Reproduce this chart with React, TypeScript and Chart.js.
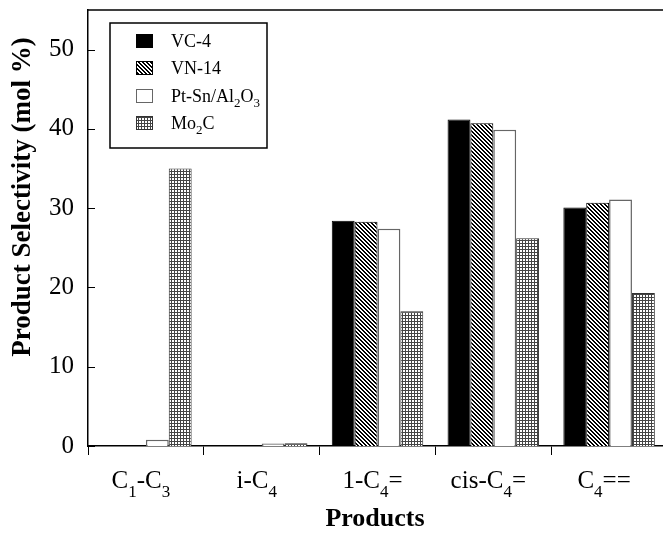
import React, { useEffect, useRef } from "react";
import { Chart, registerables } from "chart.js";

Chart.register(...registerables);

// ---- data ----
const categories = ["C1-C3", "i-C4", "1-C4=", "cis-C4=", "C4=="];
// rich label parts: [text, isSubscript]
const categoryLabelParts: [string, number][][] = [
  [["C", 0], ["1", 1], ["-C", 0], ["3", 1]],
  [["i-C", 0], ["4", 1]],
  [["1-C", 0], ["4", 1], ["=", 0]],
  [["cis-C", 0], ["4", 1], ["=", 0]],
  [["C", 0], ["4", 1], ["==", 0]],
];
const seriesNames = ["VC-4", "VN-14", "Pt-Sn/Al2O3", "Mo2C"];
const seriesLabelParts: [string, number][][] = [
  [["VC-4", 0]],
  [["VN-14", 0]],
  [["Pt-Sn/Al", 0], ["2", 1], ["O", 0], ["3", 1]],
  [["Mo", 0], ["2", 1], ["C", 0]],
];
const vc4 = [0, 0, 28.4, 41.2, 30.1];
const vn14 = [0, 0, 28.3, 40.7, 30.7];
const ptsn = [0.8, 0.3, 27.4, 39.9, 31.1];
const mo2c = [35.0, 0.35, 17.0, 26.2, 19.3];
const yTicks = [0, 10, 20, 30, 40, 50];
const yTitle = "Product Selectivity (mol %)";
const xTitle = "Products";

const SERIF = "'Liberation Serif', 'Times New Roman', serif";

function hatchPattern(ctx: CanvasRenderingContext2D) {
  const c = document.createElement("canvas");
  c.width = 4;
  c.height = 4;
  const g = c.getContext("2d")!;
  g.fillStyle = "#fff";
  g.fillRect(0, 0, 4, 4);
  g.fillStyle = "#000";
  for (let i = 0; i < 4; i++) {
    g.fillRect(i, i, 1, 1);
    g.fillRect((i + 1) % 4, i, 1, 1);
  }
  return ctx.createPattern(c, "repeat")!;
}

function gridPattern(ctx: CanvasRenderingContext2D) {
  const c = document.createElement("canvas");
  c.width = 3;
  c.height = 3;
  const g = c.getContext("2d")!;
  g.fillStyle = "#fff";
  g.fillRect(0, 0, 3, 3);
  g.fillStyle = "#444";
  g.fillRect(0, 0, 3, 1);
  g.fillRect(0, 0, 1, 3);
  return ctx.createPattern(c, "repeat")!;
}

function richWidth(ctx: CanvasRenderingContext2D, parts: [string, number][], main: string, sub: string) {
  let w = 0;
  for (const [t, s] of parts) {
    ctx.font = s ? sub : main;
    w += ctx.measureText(t).width;
  }
  return w;
}

function drawRich(
  ctx: CanvasRenderingContext2D,
  parts: [string, number][],
  x: number,
  y: number,
  main: string,
  sub: string,
  subDy: number,
  align: "left" | "center"
) {
  let cx = x;
  if (align === "center") cx = x - richWidth(ctx, parts, main, sub) / 2;
  ctx.textAlign = "left";
  ctx.textBaseline = "alphabetic";
  for (const [t, s] of parts) {
    ctx.font = s ? sub : main;
    ctx.fillText(t, cx, y + (s ? subDy : 0));
    cx += ctx.measureText(t).width;
  }
}

const decorPlugin = {
  id: "decor",
  afterDraw(chart: any) {
    const ctx: CanvasRenderingContext2D = chart.ctx;
    const { left, right, top, bottom } = chart.chartArea;
    const yScale = chart.scales.y;
    const xScale = chart.scales.x;
    ctx.save();
    ctx.strokeStyle = "#000";
    ctx.lineWidth = 1.5;
    // top and right frame
    ctx.beginPath();
    ctx.moveTo(left, top);
    ctx.lineTo(right, top);
    ctx.lineTo(right, bottom);
    ctx.stroke();
    // inward y ticks
    ctx.lineWidth = 1;
    for (const v of yTicks) {
      const py = Math.round(yScale.getPixelForValue(v)) + 0.5;
      ctx.beginPath();
      ctx.moveTo(left, py);
      ctx.lineTo(left + 7, py);
      ctx.stroke();
    }
    // x category labels
    ctx.fillStyle = "#000";
    categoryLabelParts.forEach((parts, i) => {
      const px = xScale.getPixelForValue(i) - 5;
      drawRich(ctx, parts, px, 488, `25px ${SERIF}`, `17px ${SERIF}`, 9, "center");
    });
    // axis titles
    ctx.font = `bold 26px ${SERIF}`;
    ctx.textAlign = "center";
    ctx.textBaseline = "middle";
    ctx.fillText(xTitle, 375, 519);
    ctx.save();
    ctx.translate(23, 197);
    ctx.rotate(-Math.PI / 2);
    ctx.font = `bold 27px ${SERIF}`;
    ctx.fillText(yTitle, 0, 0);
    ctx.restore();
    // legend
    const lx0 = 110, ly0 = 23, lx1 = 267, ly1 = 148;
    ctx.fillStyle = "#fff";
    ctx.fillRect(lx0, ly0, lx1 - lx0, ly1 - ly0);
    ctx.lineWidth = 1.5;
    ctx.strokeStyle = "#000";
    ctx.strokeRect(lx0, ly0, lx1 - lx0, ly1 - ly0);
    const rows = [41, 68, 96, 123];
    chart.data.datasets.forEach((ds: any, i: number) => {
      const cy = rows[i];
      ctx.fillStyle = ds.backgroundColor;
      ctx.fillRect(136, cy - 7, 17, 14);
      ctx.lineWidth = 1;
      ctx.strokeStyle = ds.borderColor;
      ctx.strokeRect(136.5, cy - 6.5, 16, 13);
      ctx.fillStyle = "#000";
      drawRich(ctx, seriesLabelParts[i], 171, cy + 6, `18px ${SERIF}`, `13px ${SERIF}`, 5, "left");
    });
    ctx.restore();
  },
};

export default function App() {
  const ref = useRef<HTMLCanvasElement>(null);
  useEffect(() => {
    const canvas = ref.current!;
    const ctx = canvas.getContext("2d")!;
    const chart = new Chart(canvas, {
      type: "bar",
      data: {
        labels: categories,
        datasets: [
          { label: seriesNames[0], data: vc4, backgroundColor: "#000", borderColor: "#000", borderWidth: 1 },
          { label: seriesNames[1], data: vn14, backgroundColor: hatchPattern(ctx), borderColor: "#000", borderWidth: 1 },
          { label: seriesNames[2], data: ptsn, backgroundColor: "#fff", borderColor: "#666", borderWidth: 1.5 },
          { label: seriesNames[3], data: mo2c, backgroundColor: gridPattern(ctx), borderColor: "#333", borderWidth: 1 },
        ] as any,
      },
      options: {
        responsive: false,
        animation: false,
        devicePixelRatio: 1,
        layout: { padding: { top: 10, right: 1, left: 0, bottom: 0 } },
        datasets: { bar: { categoryPercentage: 0.79, barPercentage: 1.0 } },
        plugins: {
          legend: { display: false },
          tooltip: { enabled: false },
          title: { display: false },
        },
        scales: {
          x: {
            type: "category",
            grid: {
              display: true,
              drawOnChartArea: false,
              drawTicks: true,
              tickLength: 9,
              color: "#000",
              lineWidth: 1,
              offset: true,
            },
            border: { display: true, color: "#000", width: 1.5 },
            ticks: { display: false },
            afterFit: (s: any) => {
              s.height = 95;
              s.paddingLeft = 0;
              s.paddingRight = 0;
            },
          },
          y: {
            min: 0,
            max: 55,
            grid: { display: false },
            border: { display: true, color: "#000", width: 1.5 },
            ticks: {
              stepSize: 10,
              padding: 6,
              color: "#000",
              font: { family: SERIF, size: 25 },
            },
            afterBuildTicks: (s: any) => {
              s.ticks = yTicks.map((v) => ({ value: v }));
            },
            afterFit: (s: any) => {
              s.width = 88;
              s.paddingTop = 0;
              s.paddingBottom = 0;
            },
          },
        } as any,
      },
      plugins: [decorPlugin],
    });
    return () => chart.destroy();
  }, []);
  return (
    <div
      style={{
        position: "fixed",
        left: 0,
        top: 0,
        width: 663,
        height: 541,
        overflow: "hidden",
        background: "#fff",
      }}
    >
      <canvas ref={ref} width={668} height={541} style={{ display: "block", width: 668, height: 541 }} />
    </div>
  );
}
